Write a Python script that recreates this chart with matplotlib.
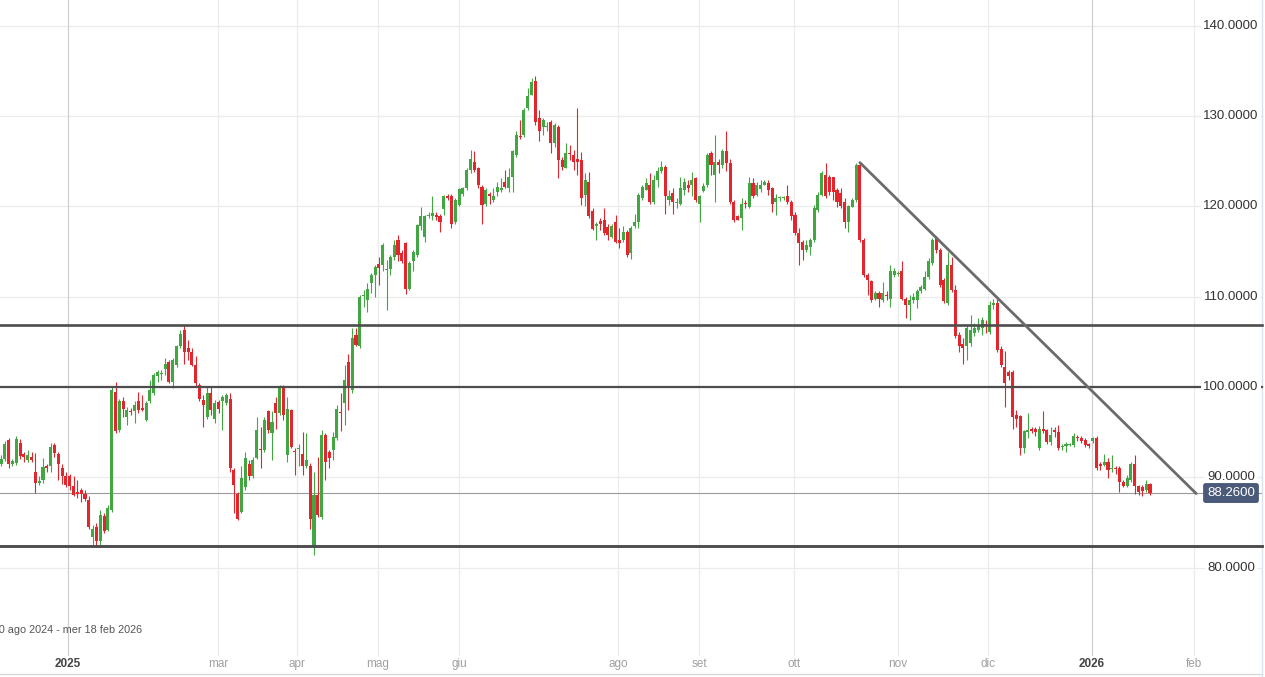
import matplotlib
matplotlib.use("Agg")
import matplotlib.pyplot as plt
import matplotlib.transforms as mtransforms

# daily candles (open, high, low, close)
opens = [
    91.5, 92.0, 94.1, 91.5, 91.6, 93.8, 92.6, 91.9, 92.3, 90.6, 89.4, 89.7, 91.2, 91.2, 93.6,
    92.6, 91.0, 90.1, 90.1, 89.0, 88.4, 88.6, 88.2, 87.5, 83.4, 84.5, 83.0, 85.7, 84.2, 86.4,
    99.5, 95.2, 98.4, 96.7, 97.3, 97.3, 98.4, 97.7, 96.3, 98.5, 99.3, 101.2, 101.4, 102.0, 102.8,
    100.6, 102.4, 104.5, 106.3, 104.3, 103.9, 102.4, 100.2, 98.6, 96.7, 99.3, 96.5, 98.3, 98.4, 98.2,
    98.7,
    90.8, 88.2, 86.2, 88.9, 91.5, 90.1, 92.1, 93.1, 93.0, 97.3, 94.9, 98.2, 97.1, 100.0, 92.5,
    97.4, 92.9, 93.1, 92.6, 91.2, 91.2, 82.3, 88.0, 85.6, 94.7, 92.8, 93.0, 94.3, 97.2, 98.2,
    102.8, 99.7, 105.8, 104.5,
    110.1, 109.6, 111.5, 112.4, 113.6, 113.5, 113.0, 113.1, 114.4, 116.3, 114.8, 115.9, 110.9, 113.9, 114.6,
    117.8, 116.6, 118.9, 118.9, 119.1, 118.9, 119.7, 121.1, 121.1, 118.3, 120.2, 121.4, 122.0, 124.0, 124.9,
    124.2, 122.2, 120.3, 121.4, 120.7, 121.6, 121.8, 122.7, 122.0, 123.3, 125.7, 127.8, 127.9, 130.9, 132.3,
    133.9, 129.8, 128.8, 128.8, 129.4, 127.0, 128.8, 125.1, 124.2, 125.9, 125.7, 125.3, 125.1, 121.3, 122.7,
    119.5, 117.8,
    118.4, 118.5, 117.7, 116.6, 118.3, 116.3, 116.3, 117.2, 114.8, 117.8, 118.3, 120.9, 121.8, 122.4, 120.5,
    122.9, 123.9, 124.4, 120.7, 121.5, 120.4, 120.3, 121.8, 122.4, 122.4, 123.1, 120.3, 121.7, 122.4, 125.9,
    123.5, 124.9, 124.6, 126.1, 124.8, 120.5, 118.9, 118.7, 120.4, 119.9, 122.6, 121.3, 121.9, 122.4, 122.6,
    122.0, 120.5, 120.9, 120.9, 121.1, 120.5, 119.0, 117.0, 116.1, 115.2, 115.5, 116.3, 119.6, 121.3, 123.5,
    123.3, 123.3, 121.8,
    121.5, 120.5, 118.3, 119.9, 120.7, 124.6, 116.3, 112.4, 111.7, 109.8, 110.4, 109.6, 110.2, 109.8, 112.4,
    112.5, 112.8, 109.8, 109.1, 109.6, 109.6, 110.6, 110.9, 112.2, 113.7, 116.5, 115.2, 111.9, 109.3, 113.5,
    110.7, 105.8, 104.8, 104.5, 104.9, 106.0, 106.3, 106.5, 107.0, 106.1, 109.1, 109.3, 104.2,
    102.2, 101.7, 101.7, 96.9, 96.8, 93.2, 95.0, 95.4, 95.4, 93.2, 95.4, 95.2, 93.9, 95.2, 95.0,
    93.4, 93.5, 93.6, 93.6, 94.5, 94.3, 94.1, 93.7, 94.0, 94.3, 91.5, 91.4, 91.7, 90.9, 91.0,
    91.0, 89.5, 89.0, 89.7, 91.5, 89.0, 88.9, 88.6, 89.3,
]
highs = [
    92.5, 94.0, 94.4, 92.0, 94.6, 94.2, 92.8, 93.0, 92.8, 92.7, 90.1, 92.1, 91.5, 93.8, 93.8,
    92.8, 91.5, 90.6, 90.4, 90.1, 89.7, 88.8, 88.6, 87.9, 84.7, 84.9, 86.4, 86.0, 86.9, 100.0,
    100.6, 98.7, 98.9, 97.8, 97.7, 98.4, 99.5, 99.1, 98.5, 100.8, 101.5, 101.9, 101.9, 103.2, 103.0,
    103.2, 104.6, 106.3, 106.9, 105.2, 104.3, 103.4, 100.4, 99.1, 100.0, 100.0, 98.6, 98.6, 99.1, 99.3,
    99.3,
    91.0, 88.4, 91.2, 92.8, 91.9, 92.3, 96.7, 95.6, 96.7, 97.5, 97.3, 98.9, 100.2, 100.2, 98.9,
    97.6, 93.2, 93.7, 95.0, 94.9, 91.6, 90.6, 92.3, 95.2, 94.9, 93.0, 95.0, 98.0, 99.3, 102.4,
    103.7, 106.5, 106.5, 110.2,
    110.7, 111.5, 112.6, 113.5, 114.4, 115.9, 114.1, 114.6, 116.3, 116.8, 115.2, 116.1, 113.9, 115.2, 118.1,
    119.9, 119.0, 119.4, 121.1, 119.4, 119.2, 121.3, 121.4, 121.4, 120.9, 122.0, 122.2, 124.2, 126.2, 126.1,
    124.4, 122.4, 122.0, 121.6, 122.0, 122.7, 123.1, 124.0, 124.2, 126.2, 128.3, 129.6, 130.9, 133.1, 134.2,
    134.4, 130.7, 129.8, 129.4, 129.6, 129.2, 129.0, 125.5, 127.0, 126.8, 126.2, 130.9, 126.0, 123.7, 123.8,
    119.8, 118.3,
    118.7, 119.8, 118.0, 118.1, 119.0, 117.6, 117.8, 117.4, 117.8, 119.2, 121.5, 122.4, 123.1, 123.7, 123.5,
    124.4, 125.0, 124.6, 121.8, 122.0, 120.9, 123.3, 123.1, 122.9, 123.8, 123.3, 121.3, 122.6, 125.9, 126.1,
    127.9, 125.3, 126.4, 128.3, 125.3, 120.7, 119.1, 120.9, 120.7, 123.3, 123.1, 122.7, 122.9, 122.9, 122.9,
    122.2, 121.4, 121.2, 121.2, 122.4, 120.7, 119.4, 117.6, 116.3, 116.3, 116.5, 120.2, 121.6, 123.9, 124.8,
    123.5, 123.3, 122.0,
    122.0, 120.9, 120.2, 120.9, 124.8, 124.85, 116.5, 112.6, 111.9, 110.6, 110.6, 111.6, 110.6, 113.5, 113.2,
    112.9, 113.9, 110.0, 110.2, 110.4, 110.8, 111.3, 112.8, 114.3, 116.5, 116.7, 115.4, 112.1, 115.0, 114.4,
    111.3, 106.1, 105.4, 106.9, 108.0, 107.1, 107.6, 107.8, 107.4, 109.5, 109.7, 109.7, 104.5,
    104.0, 101.9, 101.9, 97.5, 96.9, 95.2, 97.1, 95.6, 95.6, 95.7, 97.3, 95.4, 95.6, 95.6, 95.8,
    93.7, 93.9, 93.8, 94.9, 94.7, 94.6, 94.3, 93.8, 94.5, 94.6, 91.7, 92.6, 92.1, 92.5, 91.2,
    91.2, 89.7, 90.2, 91.7, 92.5, 89.1, 89.1, 89.7, 89.4,
]
lows = [
    91.2, 91.8, 91.0, 91.3, 91.4, 92.0, 91.7, 91.7, 91.7, 88.3, 89.1, 89.4, 90.6, 90.6, 92.3,
    89.7, 89.3, 88.9, 88.6, 87.9, 87.7, 87.3, 87.4, 84.3, 82.5, 82.4, 82.5, 83.8, 84.0, 86.2,
    94.9, 95.0, 96.7, 95.8, 96.9, 96.0, 97.1, 97.3, 96.2, 98.2, 99.1, 100.6, 100.8, 101.3, 100.4,
    99.9, 102.2, 104.3, 102.6, 103.0, 102.3, 100.0, 98.4, 95.6, 96.5, 96.9, 96.0, 97.1, 95.2, 98.0,
    90.6,
    86.0, 85.3, 86.0, 88.6, 89.7, 89.9, 92.0, 91.0, 92.8, 94.9, 91.9, 95.4, 96.9, 96.3, 91.7,
    93.2, 90.3, 91.2, 90.3, 91.0, 84.3, 81.4, 85.6, 85.4, 89.7, 91.0, 91.9, 94.1, 95.1, 95.8,
    97.4, 99.3, 104.5, 104.3,
    108.9, 108.3, 110.4, 110.0, 111.3, 112.9, 108.5, 112.4, 114.1, 113.9, 113.7, 110.3, 110.7, 112.8, 114.4,
    117.4, 116.1, 118.7, 118.5, 118.5, 117.2, 119.0, 120.7, 117.6, 118.1, 120.0, 121.1, 121.8, 123.7, 123.8,
    122.0, 118.1, 120.0, 120.3, 120.5, 121.1, 121.6, 122.0, 121.6, 121.6, 125.5, 127.5, 127.7, 130.7, 132.3,
    129.0, 127.2, 127.9, 128.3, 125.9, 126.6, 123.1, 124.0, 124.2, 125.1, 124.0, 123.5, 120.2, 120.0, 118.7,
    117.4, 116.3,
    117.4, 116.8, 116.3, 116.5, 115.9, 115.4, 116.1, 114.4, 114.2, 117.6, 117.6, 120.7, 121.8, 120.3, 120.3,
    122.2, 123.7, 119.2, 120.2, 119.2, 119.8, 120.2, 121.3, 121.6, 121.1, 120.5, 118.3, 121.6, 122.2, 123.5,
    120.5, 123.7, 124.2, 123.9, 120.3, 118.3, 118.5, 117.4, 119.8, 119.8, 120.9, 121.1, 121.6, 122.4, 121.3,
    119.4, 119.0, 120.6, 120.7, 120.3, 118.5, 116.8, 113.5, 114.1, 115.0, 114.6, 116.1, 119.4, 121.1, 120.9,
    121.3, 120.7, 119.9,
    119.8, 117.6, 117.2, 119.9, 120.5, 116.1, 112.2, 110.2, 109.4, 109.6, 108.9, 109.4, 109.6, 108.9, 112.2,
    112.3, 109.6, 107.6, 107.4, 109.3, 108.7, 110.4, 110.7, 112.0, 113.5, 114.8, 111.1, 109.3, 109.1, 110.5,
    105.4, 103.9, 102.6, 103.0, 104.5, 105.6, 106.1, 105.8, 106.0, 105.9, 108.6, 103.9, 102.2,
    97.8, 100.8, 95.4, 95.6, 92.5, 92.7, 94.3, 94.9, 94.6, 93.0, 94.9, 93.7, 93.6, 94.5, 93.0,
    93.0, 92.8, 93.5, 93.4, 94.0, 93.8, 93.4, 93.3, 93.8, 90.8, 90.8, 91.2, 89.9, 90.6, 90.4,
    88.4, 88.9, 88.9, 89.5, 88.2, 88.0, 87.9, 88.4, 88.0,
]
closes = [
    92.0, 93.7, 91.5, 91.8, 94.2, 92.4, 92.2, 92.5, 91.9, 89.4, 89.6, 91.1, 91.0, 93.4, 92.7,
    91.5, 90.1, 89.1, 89.0, 88.0, 88.2, 88.2, 87.6, 84.5, 84.3, 82.9, 85.8, 84.0, 86.6, 99.7,
    95.1, 98.4, 97.6, 97.5, 97.2, 98.0, 97.5, 97.5, 98.2, 99.7, 101.3, 101.7, 101.6, 102.6, 100.6,
    103.0, 104.5, 105.9, 103.9, 103.9, 102.4, 100.4, 98.7, 98.0, 99.3, 97.4, 98.2, 97.6, 98.9, 99.1,
    91.0,
    89.1, 85.4, 89.9, 92.1, 90.1, 91.9, 95.2, 93.0, 96.3, 95.2, 96.1, 97.1, 100.0, 96.9, 97.6,
    93.4, 92.8, 93.3, 91.2, 91.9, 85.4, 88.0, 85.8, 94.7, 91.7, 92.1, 94.5, 97.6, 97.1, 100.8,
    100.0, 105.4, 104.6, 110.0,
    110.2, 110.9, 112.4, 113.3, 113.2, 115.7, 113.1, 114.4, 115.7, 114.6, 113.9, 110.9, 113.7, 115.0, 117.9,
    118.9, 118.9, 119.0, 119.3, 118.8, 118.3, 121.1, 120.9, 118.1, 120.7, 121.9, 122.0, 124.0, 125.2, 124.0,
    122.4, 120.2, 121.8, 121.1, 121.1, 122.2, 122.0, 122.1, 123.3, 126.1, 127.9, 127.7, 130.7, 132.2, 133.8,
    129.4, 128.3, 129.6, 128.9, 127.0, 129.0, 125.1, 124.4, 125.9, 125.8, 124.9, 124.9, 120.9, 122.9, 118.9,
    117.5, 118.1,
    118.1, 117.0, 116.8, 117.8, 116.1, 115.9, 117.2, 114.6, 117.6, 118.3, 121.3, 122.2, 122.6, 120.5, 122.9,
    123.9, 124.4, 121.1, 121.2, 120.5, 120.5, 122.0, 122.7, 122.0, 122.9, 120.7, 121.1, 122.3, 125.7, 124.6,
    124.9, 124.6, 126.1, 124.8, 120.5, 118.5, 118.5, 120.3, 120.3, 122.6, 121.2, 122.4, 122.4, 122.7, 121.8,
    120.3, 120.9, 121.0, 121.0, 120.5, 118.9, 117.0, 115.9, 115.2, 115.7, 116.3, 119.8, 121.3, 123.7, 121.1,
    121.6, 121.6, 120.5,
    120.0, 118.3, 120.0, 120.7, 124.6, 116.3, 112.4, 111.9, 109.6, 110.4, 109.8, 110.4, 110.1, 112.8, 112.8,
    112.6, 109.8, 109.1, 109.6, 110.0, 110.6, 111.1, 112.2, 113.9, 116.3, 115.2, 111.3, 109.5, 113.5, 110.7,
    105.6, 104.5, 104.3, 106.5, 106.3, 106.5, 106.7, 107.4, 106.7, 109.1, 109.3, 104.1, 102.4,
    100.4, 101.2, 96.7, 96.5, 93.2, 95.1, 95.2, 95.1, 95.0, 95.4, 95.1, 93.9, 94.7, 95.0, 93.2,
    93.5, 93.7, 93.7, 94.6, 94.3, 94.0, 93.6, 93.5, 94.3, 91.0, 91.2, 91.7, 90.8, 91.0, 90.9,
    89.5, 89.0, 89.9, 91.5, 89.0, 88.4, 88.5, 89.3, 88.26,
]

# horizontal support / resistance levels and the falling trendline
levels = [106.9, 100.0, 82.4]
trend_x = [225, 313.1]          # candle index
trend_y = [124.85, 88.2]
last_price = 88.26

price_ticks = [80, 90, 100, 110, 120, 130, 140]
month_labels = ["2025", "mar", "apr", "mag", "giu", "ago", "set", "ott", "nov", "dic", "2026", "feb"]
month_px = [68, 218, 297, 378, 459, 618, 699, 794, 898, 988, 1092, 1194]   # pixel position of each month start
range_text = "mar 20 ago 2024 - mer 18 feb 2026"

GREEN = "#42a642"
RED = "#e2262e"

W, H = 1265, 677
fig = plt.figure(figsize=(W / 100, H / 100), dpi=100)
ax = fig.add_axes([0, 0, 1, 1])
ax.set_axis_off()

# pixel -> data mapping of the original screenshot
first_px, last_px = 1.0, 1150.0
step = (last_px - first_px) / (len(closes) - 1)
ax.set_xlim(-first_px / step, (W - first_px) / step)
px_per_unit = 9.03
y100 = 387
ax.set_ylim(100 - (H - y100) / px_per_unit, 100 + y100 / px_per_unit)

def px_to_idx(px):
    return (px - first_px) / step

xr = mtransforms.blended_transform_factory(ax.transData, ax.transAxes)
yr = mtransforms.blended_transform_factory(ax.transAxes, ax.transData)
right_frac = 1262 / W

# grid
for p in price_ticks:
    ax.plot([0, right_frac], [p, p], transform=yr, color="#ececec", lw=0.9, zorder=0)
for i, px in enumerate(month_px):
    col = "#d0d0d0" if month_labels[i] in ("2025", "2026") else "#ebebeb"
    ax.plot([px_to_idx(px)] * 2, [1 - 655 / H, 1], transform=xr, color=col, lw=0.9, zorder=0)

# candles
for i in range(len(closes)):
    o, hi, lo, c = opens[i], highs[i], lows[i], closes[i]
    col = GREEN if c >= o else RED
    ax.vlines(i, lo, hi, color=col, lw=0.8, zorder=2)
    body = max(abs(c - o), 0.12)
    ax.bar(i, body, bottom=min(o, c), width=0.8, color=col, lw=0, zorder=3)

# level lines
for lv, lw in zip(levels, [1.9, 1.6, 2.1]):
    ax.plot([0, right_frac], [lv, lv], transform=yr, color="#4d4d4d", lw=lw, zorder=4)

# last price line
ax.plot([0, right_frac], [last_price, last_price], transform=yr, color="#9a9a9a", lw=0.8, zorder=1)

# trendline
ax.plot(trend_x, trend_y, color="#6b6b6b", lw=2.0, zorder=5, solid_capstyle="round")

# right price axis labels
for p in price_ticks:
    ax.text(1231 / W, p, "%.4f" % p, transform=yr, ha="center", va="center",
            fontsize=9.5, family="Liberation Sans", color="#333333", zorder=6,
            bbox=dict(boxstyle="square,pad=0.15", fc="white", ec="none"))

ax.text(1231 / W, last_price, "%.4f" % last_price, transform=yr, ha="center", va="center",
        fontsize=9.5, family="Liberation Sans", color="white", zorder=7,
        bbox=dict(boxstyle="round,pad=0.3,rounding_size=0.2", fc="#4a5a78", ec="none"))

# month labels
for lab, px in zip(month_labels, month_px):
    year = lab.isdigit()
    ax.text(px_to_idx(px), 1 - 664 / H, lab, transform=xr, ha="center", va="center",
            fontsize=8.5, family="Liberation Sans",
            color="#444444" if year else "#a0a0a0",
            fontweight="bold" if year else "normal")

# date range caption, cut at the left edge as in the screenshot
ax.text(142 / W, 1 - 630 / H, range_text, transform=ax.transAxes, ha="right", va="center",
        fontsize=7.8, family="Liberation Sans", color="#555555")

# bottom navigator line and right border
ax.plot([0, right_frac], [1 - 674 / H] * 2, transform=ax.transAxes, color="#d8d8d8", lw=1)
ax.plot([right_frac] * 2, [0, 1], transform=ax.transAxes, color="#dde3ea", lw=1)

fig.savefig("out.png", dpi=100)
